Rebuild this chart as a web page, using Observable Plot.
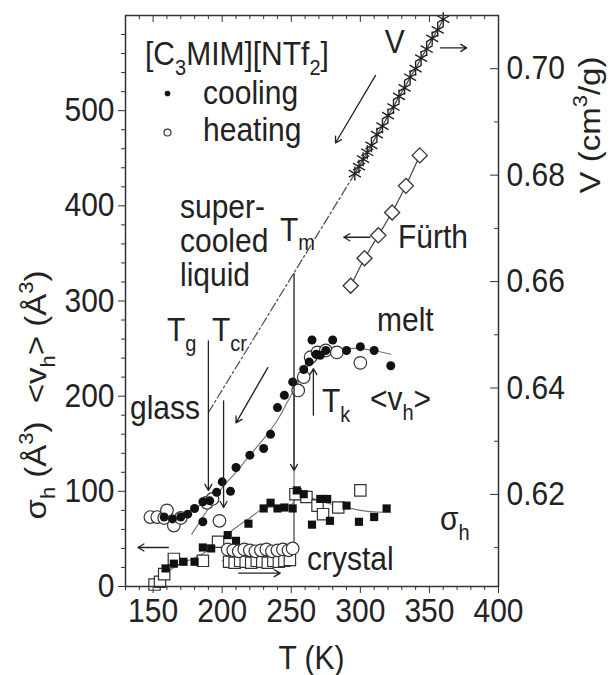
<!DOCTYPE html>
<html>
<head>
<meta charset="utf-8">
<script src="https://cdn.jsdelivr.net/npm/d3@7"></script>
<script src="https://cdn.jsdelivr.net/npm/@observablehq/plot@0.6"></script>
<style>
  body { margin: 0; background: #fff; }
  #chart svg { display: block; }
</style>
</head>
<body>
<div id="chart"></div>
<script>
// [C3MIM][NTf2]: PALS hole volume <v_h>, its dispersion sigma_h and specific volume V vs temperature

// cooling run: mean hole volume <v_h> (Å^3), filled circles
const coolT  = [158, 164, 170, 175, 180, 186, 186, 191, 196, 200, 206, 210, 220, 230, 235, 240, 245, 251, 259, 263, 265, 268, 271, 275, 280, 290, 300, 310, 322];
const coolVh = [73, 71, 73, 76, 82, 89, 68, 90, 99, 110, 100, 125, 138, 145, 160, 188, 201, 215, 228, 236, 259, 244, 243, 248, 259, 248, 252, 248, 232];

// heating run: mean hole volume <v_h> (Å^3), open circles
const heatT  = [148, 153, 158, 160, 165, 170, 189, 193, 198, 204, 208, 212, 216, 220, 224, 228, 232, 236, 240, 244, 248, 251, 255, 259, 264, 269, 275, 283, 300];
const heatVh = [73, 73, 72, 80, 64, 72, 88, 92, 69, 39, 38, 37, 39, 38, 37, 38, 39, 37, 38, 39, 38, 40, 206, 220, 241, 246, 248, 246, 235];

// cooling run: hole-size dispersion sigma_h (Å^3), filled squares
const coolSigT = [159, 165, 172, 180, 186, 192, 204, 210, 219, 230, 235, 240, 245, 251, 254, 259, 265, 271, 276, 278, 290, 299, 310, 319];
const coolSig  = [19, 24, 26, 26, 41, 40, 54, 48, 66, 82, 88, 82, 83, 82, 101, 97, 65, 92, 92, 69, 85, 68, 73, 82];

// heating run: hole-size dispersion sigma_h (Å^3), open squares
const heatSigT = [151, 155, 158, 165, 186, 197, 205, 209, 213, 217, 221, 225, 229, 233, 237, 241, 245, 249, 253, 261, 269, 273, 284, 300];
const heatSig  = [2, 5, 13, 29, 27, 47, 26, 25, 27, 26, 25, 27, 26, 25, 27, 26, 27, 28, 97, 94, 85, 76, 83, 101];

// Fürth hole volume estimate (Å^3), open diamonds
const furthT  = [293, 303, 313, 323, 333, 343];
const furthVh = [316, 345, 369, 393, 421, 453];

// specific volume V (cm^3/g), asterisks, and its extrapolation into the supercooled range
const volT = [296, 299, 302, 305, 308, 312, 316, 320, 324, 328, 332, 336, 340, 344, 348, 352, 356, 360];
const volV = [0.6803, 0.6816, 0.6830, 0.6843, 0.6856, 0.6876, 0.6892, 0.6912, 0.6928, 0.6948, 0.6964, 0.6984, 0.7000, 0.7020, 0.7037, 0.7057, 0.7073, 0.7093];
const volExtrapT = [190, 296];
const volExtrapV = [0.6354, 0.6803];

// guide curves through the data
const fitGlassT  = [148, 160, 170, 180, 190, 198];
const fitGlassVh = [72, 73, 76, 82, 90, 98];
const fitLiquidT  = [178, 190, 200, 210, 220, 230, 240, 248, 255, 262, 270, 280, 290, 300, 310, 322];
const fitLiquidVh = [55, 82, 104, 120, 138, 155, 175, 196, 214, 232, 243, 248, 250, 250, 248, 244];
const fitMeltT  = [200, 252, 252, 256, 262, 270];
const fitMeltVh = [39, 39, 206, 222, 238, 246];
const fitSigCoolT = [152, 160, 170, 180, 190, 200, 210, 220, 230, 240, 250, 255, 265, 275, 290, 305, 322];
const fitSigCool  = [2, 15, 24, 30, 38, 50, 62, 72, 82, 84, 86, 95, 92, 88, 83, 79, 78];
const fitSigHeatT = [200, 252, 252, 260, 270];
const fitSigHeat  = [27, 27, 100, 96, 90];

// axis ticks
const tTicks  = [150, 200, 250, 300, 350, 400];
const tMinor  = [130, 140, 160, 170, 180, 190, 210, 220, 230, 240, 260, 270, 280, 290, 310, 320, 330, 340, 360, 370, 380, 390];
const vhTicks = [0, 100, 200, 300, 400, 500];
const vhMinor = [20, 40, 60, 80, 120, 140, 160, 180, 220, 240, 260, 280, 320, 340, 360, 380, 420, 440, 460, 480, 520, 540, 560, 580];
const volTicks = [0.62, 0.64, 0.66, 0.68, 0.70];
const volMinor = [0.61, 0.63, 0.65, 0.67, 0.69];

// the right-hand V axis shares the frame with the left-hand <v_h> axis
const vScale = d3.scaleLinear([0.6027, 0.7100], [0, 600]);

const FONT = "'Liberation Sans', Arial, Helvetica, sans-serif";
const INK = "#222";
const GUIDE = "#777";
const FS = 30;
const STRETCH = 1.1;   // glyphs are drawn a little taller than wide

const W = 614, H = 675;
const M = {left: 125, right: 116, top: 15, bottom: 89};
const frameW = W - M.left - M.right;
const frameH = H - M.top - M.bottom;

const pts = (T, v) => T.map((t, i) => ({T: t, v: v[i]}));
const volRows = volT.map((t, i) => ({T: t, v: vScale(volV[i])}));
const volExtrap = volExtrapT.map((t, i) => ({T: t, v: vScale(volExtrapV[i])}));

// annotation arrows (data coordinates)
const arrows = [
  {T1: 358, v1: 566, T2: 377, v2: 566},       // V -> right axis
  {T1: 311, v1: 537, T2: 282, v2: 466},       // cooling direction
  {T1: 233, v1: 230, T2: 210, v2: 172},       // cooling along the supercooled liquid
  {T1: 307, v1: 367, T2: 288, v2: 367},       // Fürth -> left axis
  {T1: 161, v1: 41,  T2: 139, v2: 41},        // sigma_h -> left axis
  {T1: 212, v1: 14,  T2: 242, v2: 14},        // heating of the crystal
  {T1: 190, v1: 258, T2: 190, v2: 101},       // Tg
  {T1: 201, v1: 195, T2: 201, v2: 83},        // Tcr
  {T1: 252, v1: 329, T2: 252, v2: 122},       // Tm
  {T1: 266, v1: 180, T2: 266, v2: 229}        // Tk
];

// legend entries
const legendDots = [{T: 160.4, v: 518, filled: true}, {T: 160.4, v: 477, filled: false}];

const plot = Plot.plot({
  width: W, height: H,
  marginLeft: M.left, marginRight: M.right, marginTop: M.top, marginBottom: M.bottom,
  style: {fontFamily: FONT, fontSize: FS + "px", color: INK, background: "#fff"},
  x: {domain: [130, 400]},
  y: {domain: [0, 600]},
  marks: [
    // guide curves
    Plot.line(pts(fitGlassT, fitGlassVh), {x: "T", y: "v", stroke: GUIDE, strokeWidth: 1.2, curve: "catmull-rom"}),
    Plot.line(pts(fitLiquidT, fitLiquidVh), {x: "T", y: "v", stroke: GUIDE, strokeWidth: 1.2, curve: "catmull-rom"}),
    Plot.line(pts(fitMeltT, fitMeltVh), {x: "T", y: "v", stroke: GUIDE, strokeWidth: 1.2}),
    Plot.line(pts(fitSigCoolT, fitSigCool), {x: "T", y: "v", stroke: GUIDE, strokeWidth: 1.2, curve: "catmull-rom"}),
    Plot.line(pts(fitSigHeatT, fitSigHeat), {x: "T", y: "v", stroke: GUIDE, strokeWidth: 1.2}),
    Plot.line(volExtrap, {x: "T", y: "v", stroke: "#555", strokeWidth: 1.3, strokeDasharray: "9,3,2,3"}),

    // data
    Plot.dot(pts(heatSigT, heatSig), {x: "T", y: "v", symbol: "square", r: 6.4, fill: "#fff", stroke: "#333", strokeWidth: 1.2}),
    Plot.dot(pts(coolSigT, coolSig), {x: "T", y: "v", symbol: "square", r: 4.6, fill: "#111", stroke: "none"}),
    Plot.dot(pts(heatT, heatVh), {x: "T", y: "v", r: 6.3, fill: "#fff", stroke: "#333", strokeWidth: 1.2}),
    Plot.dot(pts(coolT, coolVh), {x: "T", y: "v", r: 4.5, fill: "#111", stroke: "none"}),
    Plot.line(pts(furthT, furthVh), {x: "T", y: "v", stroke: "#444", strokeWidth: 1.2}),
    Plot.dot(pts(furthT, furthVh), {x: "T", y: "v", symbol: "diamond2", r: 6.8, fill: "#fff", stroke: "#333", strokeWidth: 1.3}),
    Plot.line(volRows, {x: "T", y: "v", stroke: "#444", strokeWidth: 1.2}),
    Plot.dot(volRows, {x: "T", y: "v", symbol: "asterisk", r: 6.6, stroke: "#222", strokeWidth: 1.4}),

    // legend markers
    Plot.dot(legendDots, {x: "T", y: "v", r: d => d.filled ? 4 : 6, fill: d => d.filled ? "#111" : "#fff", stroke: d => d.filled ? "none" : "#333", strokeWidth: 1.2}),

    // annotation arrows
    Plot.arrow(arrows, {x1: "T1", y1: "v1", x2: "T2", y2: "v2", stroke: INK, strokeWidth: 1.3, headLength: 8}),

    // axes: left <v_h>, bottom T, mirrored top ticks, right V
    Plot.axisY(vhTicks, {anchor: "left", tickSize: 7, tickPadding: 4, fontSize: FS, stroke: "#333", label: null}),
    Plot.axisY(vhMinor, {anchor: "left", tickSize: 4, tickFormat: () => "", stroke: "#333", label: null}),
    Plot.axisX(tTicks, {anchor: "bottom", tickSize: 7, tickPadding: 5, fontSize: FS, stroke: "#333", label: null}),
    Plot.axisX(tMinor, {anchor: "bottom", tickSize: 4, tickFormat: () => "", stroke: "#333", label: null}),
    Plot.tickX(tTicks, {x: d => d, insetBottom: frameH - 7, stroke: "#333"}),
    Plot.tickX(tMinor, {x: d => d, insetBottom: frameH - 4, stroke: "#333"}),
    Plot.tickY(volTicks, {y: d => vScale(d), insetLeft: frameW - 8, stroke: "#333"}),
    Plot.tickY(volMinor, {y: d => vScale(d), insetLeft: frameW - 4, stroke: "#333"}),
    Plot.axisY(volTicks.map(vScale), {anchor: "right", tickSize: 0, tickPadding: 8, fontSize: FS, label: null,
      tickFormat: d => d3.format(".2f")(vScale.invert(d))}),
    Plot.frame({stroke: "#333", strokeWidth: 1.5})
  ]
});

document.getElementById("chart").appendChild(plot);

// tick labels: same slight vertical stretch as the other lettering
d3.select(plot).selectAll('g[aria-label$="tick label"] text').each(function () {
  const t = this.getAttribute("transform") || "";
  this.setAttribute("transform", `${t} scale(1,${STRETCH})`);
});

// text annotations with sub- and superscripts, placed through the plot's scales
const sx = plot.scale("x").apply, sy = plot.scale("y").apply;

function rich(text, parts, size) {
  const small = Math.round(size * 0.66);
  let shift = 0;
  for (const [s, kind] of parts) {
    const target = kind === "sub" ? size * 0.3 : kind === "sup" ? -size * 0.42 : 0;
    text.append("tspan").attr("dy", target - shift).attr("font-size", kind ? small : size).text(s);
    shift = target;
  }
}

const notes = [
  {T: 144.5, v: 547, parts: [["[C"], ["3", "sub"], ["MIM][NTf"], ["2", "sub"], ["]"]]},
  {T: 186.5, v: 507, parts: [["cooling"]]},
  {T: 186.5, v: 468, parts: [["heating"]]},
  {T: 318,   v: 560, parts: [["V"]]},
  {T: 169.8, v: 387, parts: [["super-"]]},
  {T: 169.8, v: 351, parts: [["cooled"]]},
  {T: 169.8, v: 315, parts: [["liquid"]]},
  {T: 242.2, v: 363, parts: [["T"], ["m", "sub"]]},
  {T: 160.4, v: 257, parts: [["T"], ["g", "sub"]]},
  {T: 193,   v: 257, parts: [["T"], ["cr", "sub"]]},
  {T: 133.6, v: 176, parts: [["glass"]]},
  {T: 312.4, v: 268, parts: [["melt"]]},
  {T: 307.3, v: 185, parts: [["<v"], ["h", "sub"], [">"]]},
  {T: 272.6, v: 183, parts: [["T"], ["k", "sub"]]},
  {T: 327.6, v: 355, parts: [["Fürth"]]},
  {T: 261.7, v: 17,  parts: [["crystal"]]},
  {T: 358,   v: 59,  parts: [["σ"], ["h", "sub"]]}
];

const g = d3.select(plot).append("g")
  .attr("font-family", FONT).attr("fill", INK).attr("text-anchor", "start");
for (const n of notes) {
  rich(g.append("text")
    .attr("transform", `translate(${sx(n.T)},${sy(n.v)}) scale(1,${STRETCH})`), n.parts, FS);
}

// axis titles
rich(g.append("text").attr("text-anchor", "middle")
  .attr("transform", `translate(${M.left + frameW / 2},${H - 6}) scale(1,${STRETCH})`),
  [["T (K)"]], FS);
rich(g.append("text").attr("text-anchor", "middle")
  .attr("transform", `translate(${M.left - 79},395) rotate(-90) scale(${STRETCH},1)`),
  [["σ"], ["h", "sub"], [" (Å"], ["3", "sup"], [")  <v"], ["h", "sub"], ["> (Å"], ["3", "sup"], [")"]], FS);
rich(g.append("text").attr("text-anchor", "middle")
  .attr("transform", `translate(${W - 14},125) rotate(-90) scale(${STRETCH},1)`),
  [["V (cm"], ["3", "sup"], ["/g)"]], FS);
</script>
</body>
</html>
